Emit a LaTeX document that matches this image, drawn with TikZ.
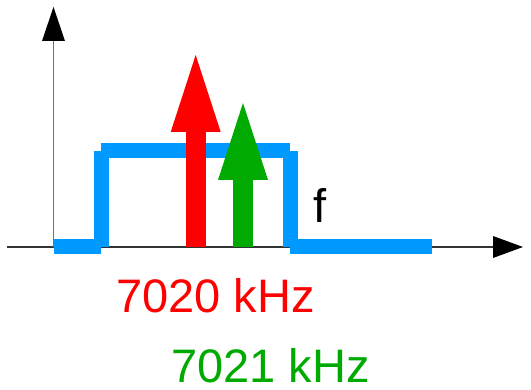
\documentclass[tikz,border=0pt]{standalone}
\usepackage{fontspec}
\setmainfont{Liberation Sans}
\usepackage{xcolor}
\usepackage{tikz}
\usetikzlibrary{arrows.meta,positioning,calc}
\definecolor{passblue}{RGB}{0,153,255}
\definecolor{carrgreen}{RGB}{0,170,0}
\tikzset{
    axis/.style={line width=1.5pt,draw=black!55},
    haxis/.style={line width=1.5pt,draw=black!80},
    trace/.style={line width=15pt,draw=passblue,line cap=butt},
    carrier/.style={line width=20pt,-{Triangle[length=77pt,width=50pt,line width=0pt]}},
    lbl/.style={inner sep=0pt,anchor=base west,font=\fontsize{47}{56}\selectfont}
}
\begin{document}
\begin{tikzpicture}[x=1pt,y=-1pt]
  \useasboundingbox (0,0) rectangle (531,390);
  % axes
  \coordinate (O) at (53.5,247);
  \coordinate (xs) at (7,247);
  \coordinate (xe) at (523,247);
  \coordinate (ye) at (53.5,7);
  \draw[haxis,-{Triangle[length=30pt,width=22pt,line width=0pt,color=black]}] (xs) -- (xe);
  \draw[axis,-{Triangle[length=34pt,width=23pt,line width=0pt,color=black]}] (O) -- (ye);
  % filter passband, drawn piece by piece
  \coordinate (p0) at (54,246.5);
  \coordinate (p1) at (101.3,246.5);
  \coordinate (p2) at (101.3,151);
  \coordinate (p3) at (290.3,151);
  \coordinate (p4) at (290.3,246.5);
  \coordinate (p5) at (432,246.5);
  \draw[trace] (p0) -- (p1);
  \draw[trace] ($(p1)+(0,0.5)$) -- (p2);
  \draw[trace] (p2) -- (p3);
  \draw[trace] (p3) -- ($(p4)+(0,0.5)$);
  \draw[trace] (p4) -- (p5);
  % two carriers
  \coordinate (r0) at (195.7,247);
  \coordinate (r1) at (195.7,55);
  \coordinate (g0) at (243,247);
  \coordinate (g1) at (243,103);
  \draw[carrier,draw=red,fill=red] (r0) -- (r1);
  \draw[carrier,draw=carrgreen,fill=carrgreen] (g0) -- (g1);
  % labels
  \node[lbl] (f) at (313,223) {f};
  \node[lbl,text=red] (fred) at (116,313) {7020 kHz};
  \node[lbl,text=carrgreen] (fgreen) at (171,383) {7021 kHz};
\end{tikzpicture}
\end{document}
